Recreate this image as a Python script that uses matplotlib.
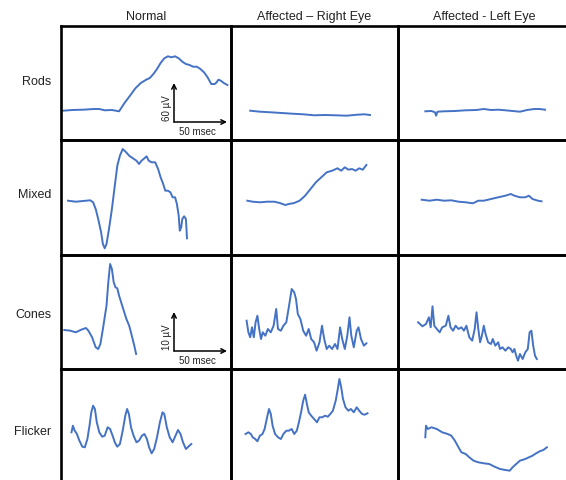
import matplotlib
matplotlib.use('Agg')
import matplotlib.pyplot as plt

plt.rcParams['font.family'] = ['Liberation Sans', 'DejaVu Sans']

# column / row labels
col_titles = ['Normal', 'Affected \u2013 Right Eye', 'Affected - Left Eye']
row_titles = ['Rods', 'Mixed', 'Cones', 'Flicker']

# traces: time (msec) and amplitude (uV-ish units)
rods_normal_t = [2.2, 11.2, 22, 32.9, 38.3, 43.7, 50.9, 58.1, 63.5, 69, 74.4, 79.8, 85.2, 88.8, 92.4, 96,
                 99.6, 103.3, 106.9, 110.5, 114.1, 117.7, 121.3, 124.9, 128.5, 132.1, 135.8, 139.4, 143,
                 146.6, 150.2, 153.8, 155.6, 157.4, 159.9, 162.8, 166.4]
rods_normal_v = [29.3, 30, 30.3, 31, 31, 29.7, 30, 28.7, 37, 44.3, 51.7, 57, 60.3, 62, 66, 71, 77, 81.7,
                 83.7, 82.7, 83.7, 81.7, 78.3, 76, 75, 73.3, 73.3, 71, 67.7, 62.7, 56, 56, 57.7, 60.3,
                 59.3, 57, 55]
rods_right_t = [19.2, 28.9, 39.8, 50.6, 61.4, 72.2, 83.1, 93.9, 104.7, 115.6, 126.4, 133.6, 139]
rods_right_v = [29.3, 28.3, 27.7, 27, 26.3, 25.7, 24.7, 25, 24.7, 24.3, 25.3, 25.7, 25]
rods_left_t = [27.3, 33.4, 37, 38.1, 39.5, 46, 56.9, 67.7, 78.5, 85.8, 93, 100.2, 107.4, 114.6, 121.9,
               129.1, 136.3, 141.7, 147.1]
rods_left_v = [28.7, 29, 27.7, 24.3, 28.3, 28.7, 29, 29.7, 30, 31, 30, 30.3, 29.7, 29, 28.3, 30, 31, 31,
               30.3]

mixed_normal_t = [7, 14.8, 22, 29.3, 32.1, 34.7, 37.2, 40.1, 41.9, 43.7, 45.5, 48, 50.9, 53.8, 56.3,
                  58.9, 61.7, 64.6, 68.2, 71.9, 75.5, 78, 80.5, 83.4, 85.6, 87.7, 90.6, 94.2, 97.1,
                  99.6, 102.2, 104.3, 106.9, 109.4, 111.6, 114.1, 115.9, 117.7, 118.8, 120.2, 121.3,
                  123.1, 124.9, 126]
mixed_normal_v = [54.3, 53.3, 54, 54.7, 52.7, 46, 36, 22.7, 11, 6.7, 11, 26, 46, 69.3, 89.3, 99.3, 106,
                  103.3, 99.3, 96.7, 94.3, 91, 94.3, 96.7, 98.7, 94.3, 92.7, 92.7, 86, 77.7, 71, 64.3,
                  64.3, 62.7, 57.7, 57.7, 51, 39.3, 24.3, 27.7, 36, 38.7, 36, 16.7]
mixed_right_t = [16.3, 21.7, 28.9, 36.1, 43.4, 48.8, 54.2, 57.8, 63.2, 68.6, 74.1, 79.5, 84.9, 90.3,
                 95.7, 101.1, 106.5, 110.2, 113.8, 117.4, 121, 124.6, 128.2, 131.8, 133.6, 135.4]
mixed_right_v = [54.3, 53.3, 52.7, 53.3, 53.3, 52, 50, 51, 52, 54.3, 59.3, 66, 72.7, 77.7, 82.7, 84.3,
                 86.7, 84.3, 87.7, 85.3, 86, 84.3, 86.7, 85.3, 87.7, 90]
mixed_left_t = [23.7, 31.6, 38.8, 46, 53.3, 60.5, 67.7, 74.9, 80.3, 85.8, 93, 100.2, 107.4, 112.8, 116.4,
                121.9, 127.3, 130.9, 134.5, 139.9, 143.5]
mixed_left_v = [55.3, 54.3, 55.3, 54.3, 54.7, 53.3, 52.7, 51.7, 54.3, 54.3, 56, 57.7, 59.3, 61, 59.3,
                57.7, 57.7, 59.3, 56, 54.3, 53.7]

cones_normal_t = [3.3, 9.4, 14.8, 20.2, 24.9, 27.4, 31.1, 34.7, 37.2, 39.4, 41.9, 43.7, 45.5, 47.3, 49.1,
                  50.9, 52.7, 54.5, 56.3, 58.1, 61.7, 65.4, 68.2, 70.8, 73.3, 75.1]
cones_normal_v = [39, 38.3, 36.7, 39.3, 41, 38.3, 31.7, 21.7, 20, 25, 40, 51.7, 63.3, 86.7, 105, 100,
                  86.7, 81.7, 80.7, 73.3, 61.7, 50, 43.3, 33.3, 23.3, 15]
cones_right_t = [15.6, 17.4, 19.2, 21, 22.8, 24.6, 26.4, 28.2, 30, 31.8, 34.3, 36.9, 39.8, 42.6, 45.2,
                 47, 49.9, 52.4, 55.3, 57.8, 60.7, 63.2, 65, 66.8, 69.4, 72.2, 75.1, 77.7, 80.2, 83.1,
                 85.6, 88.5, 91, 93.2, 95.7, 98.2, 101.1, 104, 106.5, 109.1, 111.2, 113.8, 116.3,
                 118.5, 120.3, 122.8, 125.7, 127.5, 130, 132.9, 135.4]
cones_right_v = [48.3, 36.7, 31.7, 41.7, 31.7, 46.7, 53.3, 40, 30, 36.7, 33.3, 40, 36.7, 43.3, 60, 40,
                 38.3, 43.3, 46.7, 61.7, 80, 76.7, 70, 55, 50, 38.3, 33.3, 40, 30, 26.7, 18.3, 26.7,
                 43.3, 30, 20, 23.3, 20, 25, 20, 41.7, 30, 20, 33.3, 51.7, 33.3, 21.7, 38.3, 41.7, 30,
                 23.3, 25.7]
cones_left_t = [20.1, 24.4, 28, 30.9, 32.7, 34.5, 36.3, 38.8, 41.7, 44.2, 47.8, 50.4, 52.5, 55.1, 57.6,
                60.5, 63.4, 65.9, 68.4, 71.3, 74.2, 76.7, 78.5, 80.3, 82.1, 83.9, 85.8, 87.6, 90.1, 93,
                94.8, 97.3, 100.2, 102, 104.5, 107.4, 110.3, 112.8, 114.6, 116.4, 118.2, 120, 121.9,
                124.7, 127.3, 129.8, 131.6, 133.4, 135.2, 137, 138.8]
cones_left_v = [46.7, 42.7, 45, 51.7, 41.7, 62.7, 43.3, 40, 36.7, 41.7, 43.3, 53.3, 41.7, 38.3, 43.3, 40,
                41.7, 38.3, 43.3, 31.7, 28.3, 40, 56.7, 40, 26.7, 33.3, 43.3, 35, 26.7, 25, 30, 23.3,
                26.7, 20, 21.7, 18.3, 21.7, 20, 16.7, 20, 13.3, 8.3, 15, 10, 16.7, 20, 36.7, 38.3,
                23.3, 13.3, 10]

flicker_normal_t = [10.5, 11.9, 13.7, 15.9, 18.4, 21.3, 23.8, 26.4, 28.5, 30.3, 32.1, 33.9, 35.8, 38.3,
                    41.2, 43.7, 46.6, 49.1, 51.6, 53.8, 56.3, 58.9, 61.7, 64.3, 66.1, 67.9, 70, 72.6,
                    75.5, 78, 80.9, 83.4, 85.9, 88.1, 90.6, 93.2, 96, 98.9, 101.5, 103.3, 105.8,
                    108.7, 111.6, 114.5, 117, 119.5, 122, 124.9, 127.4, 130.3]
flicker_normal_v = [50.7, 57.3, 52.3, 49, 42.3, 36.3, 35.7, 44, 57.3, 70.7, 77.3, 74, 60.7, 50.7, 46.3,
                    47.3, 55.7, 54, 47.3, 40.7, 36.3, 39, 52.3, 67.3, 74, 69, 55.7, 47.3, 40.7, 42.3,
                    47.3, 49, 44, 35.7, 29.7, 34, 45.7, 60.7, 70.7, 69, 55.7, 45.7, 40.7, 47.3, 53,
                    49, 40.7, 34, 36.3, 39]
flicker_right_t = [14.5, 17.4, 19.9, 21.7, 24.2, 26.4, 28.9, 31.5, 33.6, 36.1, 38, 39.8, 41.6, 44.1, 47,
                   49.9, 52.4, 55.3, 57.8, 60.7, 63.2, 65.8, 67.9, 70.4, 72.2, 74.1, 75.9, 77.7, 80.2,
                   83.1, 86, 88.5, 91.4, 93.9, 96.8, 99.3, 101.9, 104.7, 106.5, 108.4, 110.2, 112,
                   114.5, 117.4, 119.9, 122.8, 125.7, 128.2, 131.1, 133.6, 136.5]
flicker_right_v = [49, 50.7, 49, 45.7, 44, 41.7, 47.3, 49, 54, 65.7, 74, 69, 57.3, 49, 45.7, 44, 49,
                   52.3, 52.3, 54, 49, 52.3, 60.7, 72.3, 82.3, 88.3, 79, 70.7, 67.3, 64, 60.7, 65.7,
                   65.7, 67.3, 66.3, 69, 72.3, 82.3, 92.3, 104, 95.7, 84, 75.7, 72.3, 74, 70.7, 75.7,
                   72.3, 69, 68.3, 69.7]
flicker_left_t = [27.3, 28, 29.8, 33.4, 38.8, 44.2, 49.7, 53.3, 56.9, 60.5, 63.4, 67.7, 71.3, 75.6,
                  80.3, 85.8, 91.2, 96.6, 102, 107.4, 111.7, 114.6, 118.2, 121.9, 127.3, 130.9, 134.5,
                  138.1, 141.7, 145.3, 148.9]
flicker_left_v = [45.7, 57.3, 54, 55.7, 54, 50.7, 49, 47.3, 42.3, 35.7, 30.7, 29, 25.7, 22.3, 20.7,
                  19.7, 19, 16.3, 14, 13, 12.3, 15.7, 19, 22.3, 24, 25.7, 27.3, 29.7, 31.7, 33, 35.7]

traces = [
    [(rods_normal_t, rods_normal_v), (rods_right_t, rods_right_v), (rods_left_t, rods_left_v)],
    [(mixed_normal_t, mixed_normal_v), (mixed_right_t, mixed_right_v), (mixed_left_t, mixed_left_v)],
    [(cones_normal_t, cones_normal_v), (cones_right_t, cones_right_v), (cones_left_t, cones_left_v)],
    [(flicker_normal_t, flicker_normal_v), (flicker_right_t, flicker_right_v),
     (flicker_left_t, flicker_left_v)],
]

# scale bar labels (Normal column, rows Rods and Cones)
scale_labels = {0: '60 \u00b5V', 2: '10 \u00b5V'}

# layout in pixels
W, H = 566, 481
col_left = [61, 231, 398]
col_width = [170, 167, 172]
row_top = [27, 141, 256, 370]
row_height = [114, 115, 114, 114]
row_label_y = [82, 195, 315, 432]
text_color = '#222222'

fig = plt.figure(figsize=(W / 100, H / 100), dpi=100)

for r in range(4):
    for c in range(3):
        ax = fig.add_axes([col_left[c] / W, (H - row_top[r] - row_height[r]) / H,
                           col_width[c] / W, row_height[r] / H])
        t, v = traces[r][c]
        ax.plot(t, v, color='#4472c4', lw=1.4, solid_joinstyle='round')
        ax.set_xlim(0, col_width[c])
        ax.set_ylim(0, row_height[r])
        ax.set_xticks([])
        ax.set_yticks([])
        for s in ax.spines.values():
            s.set_linewidth(1.9)
            s.set_color('black')
        ax.patch.set_alpha(0)

        if c == 0 and r in scale_labels:
            # scale bar arrows
            ax.annotate('', xy=(113, 57), xytext=(113, 18),
                        arrowprops=dict(arrowstyle='->', lw=1.1, color='black', shrinkA=0, shrinkB=0,
                                        mutation_scale=8))
            ax.annotate('', xy=(166, 18), xytext=(113, 18),
                        arrowprops=dict(arrowstyle='->', lw=1.1, color='black', shrinkA=0, shrinkB=0,
                                        mutation_scale=8))
            ax.text(136, 8.5, '50 msec', fontsize=7, ha='center', va='center', color=text_color)
            ax.text(106, 33, scale_labels[r], fontsize=7, ha='center', va='center', rotation=90,
                    color=text_color)

for c in range(3):
    xc = (col_left[c] + col_width[c] / 2) / W
    fig.text(xc, 1 - 17 / H, col_titles[c], fontsize=9, ha='center', va='center', color=text_color)

for r in range(4):
    fig.text(51.5 / W, 1 - row_label_y[r] / H, row_titles[r], fontsize=9, ha='right', va='center',
             color=text_color)

fig.savefig('out.png', dpi=100)
